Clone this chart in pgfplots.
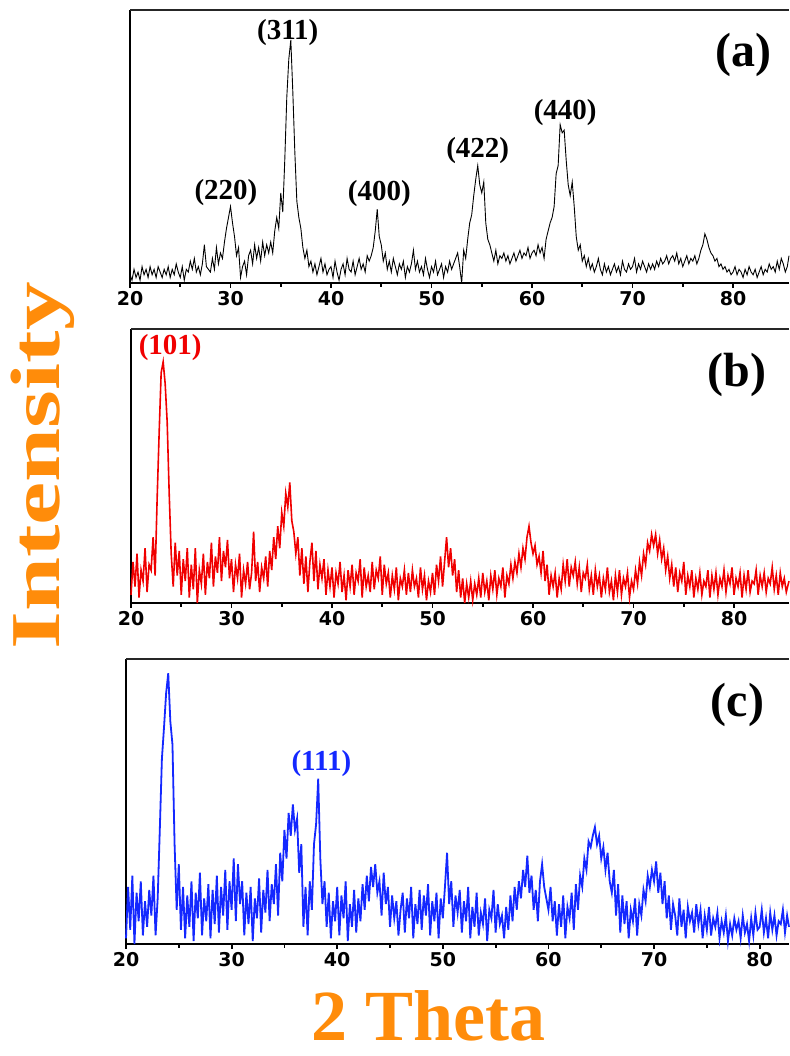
\documentclass[border=0pt]{standalone}
\usepackage{fontspec}
\setmainfont{Liberation Serif}
\newfontfamily\tickfont{DejaVu Sans}
\usepackage{pgfplots}
\pgfplotsset{compat=1.18}
\definecolor{myorange}{RGB}{255,140,10}
\definecolor{myred}{RGB}{240,0,0}
\definecolor{myblue}{RGB}{20,40,255}
\pgfplotsset{panel/.style={
  scale only axis, anchor=south west, xmin=20, ymin=0, ymax=100,
  axis x line*=bottom, axis y line*=left, ytick=\empty,
  xtick={20,30,...,80}, minor x tick num=1, tick align=outside,
  major tick length=5pt, minor tick length=4pt,
  x axis line style={line width=2pt}, y axis line style={line width=2.8pt},
  every tick/.style={black, line width=1.8pt},
  xticklabel style={font=\tickfont\bfseries\fontsize{19}{19}\selectfont},
  /pgf/number format/assume math mode=true,
  clip=false}}
\newcommand{\pk}{\bfseries\fontsize{29}{29}\selectfont}
\newcommand{\pn}{\bfseries\fontsize{48}{48}\selectfont}
\begin{document}
\begin{tikzpicture}[x=1pt,y=1pt]
\useasboundingbox (0pt,0pt) rectangle (789pt,1056pt);
% ---------------- (a)
\begin{axis}[panel, at={(130pt,773pt)}, width=659pt, height=273pt, xmax=85.57]
\addplot[black, line width=0.9pt] coordinates {
(20.0,3)(20.2,1)(20.4,5)(20.6,2)(20.8,4)(21.0,1)(21.2,6)(21.4,3)(21.6,5)(21.8,2)
(22.0,6)(22.2,3)(22.4,5)(22.6,2)(22.8,6)(23.0,4)(23.2,2)(23.4,5)(23.6,3)(23.8,6)
(24.0,2)(24.2,5)(24.4,3)(24.6,7)(24.8,4)(25.0,2)(25.2,6)(25.4,1)(25.6,5)(25.8,4)
(26.0,8)(26.2,5)(26.4,9)(26.6,4)(26.8,6)(27.0,3)(27.2,7)(27.4,14)(27.6,6)(27.8,5)
(28.0,4)(28.2,9)(28.4,5)(28.6,13)(28.8,7)(29.0,11)(29.2,9)(29.4,15)(29.6,20)(29.8,24)
(30.0,28)(30.2,22)(30.4,17)(30.6,10)(30.8,13)(31.0,2)(31.2,6)(31.4,8)(31.6,3)(31.8,10)
(32.0,12)(32.2,7)(32.4,14)(32.6,9)(32.8,13)(33.0,8)(33.2,15)(33.4,10)(33.6,14)(33.8,11)
(34.0,15)(34.2,11)(34.4,19)(34.6,24)(34.8,20)(35.0,33)(35.2,26)(35.4,45)(35.6,68)(35.8,82)
(36.0,89)(36.2,70)(36.4,48)(36.6,30)(36.8,24)(37.0,20)(37.2,13)(37.4,9)(37.6,12)(37.8,6)
(38.0,8)(38.2,4)(38.4,7)(38.6,3)(38.8,6)(39.0,9)(39.2,4)(39.4,7)(39.6,3)(39.8,5)
(40.0,6)(40.2,2)(40.4,8)(40.6,4)(40.8,1)(41.0,5)(41.2,7)(41.4,3)(41.6,9)(41.8,5)
(42.0,4)(42.2,8)(42.4,3)(42.6,6)(42.8,9)(43.0,5)(43.2,7)(43.4,4)(43.6,10)(43.8,8)
(44.0,10)(44.2,13)(44.4,19)(44.6,27)(44.8,17)(45.0,14)(45.2,8)(45.4,11)(45.6,5)(45.8,8)
(46.0,4)(46.2,9)(46.4,6)(46.6,3)(46.8,7)(47.0,5)(47.2,8)(47.4,2)(47.6,6)(47.8,4)
(48.0,7)(48.2,12)(48.4,5)(48.6,8)(48.8,4)(49.0,6)(49.2,3)(49.4,9)(49.6,5)(49.8,2)
(50.0,6)(50.2,4)(50.4,8)(50.6,3)(50.8,5)(51.0,7)(51.2,2)(51.4,6)(51.6,4)(51.8,8)
(52.0,5)(52.2,7)(52.4,9)(52.6,11)(52.8,6)(53.0,0)(53.2,12)(53.4,9)(53.6,16)(53.8,22)
(54.0,25)(54.2,32)(54.4,38)(54.6,43)(54.8,36)(55.0,33)(55.2,37)(55.4,22)(55.6,16)(55.8,14)
(56.0,11)(56.2,8)(56.4,12)(56.6,7)(56.8,10)(57.0,9)(57.2,11)(57.4,8)(57.6,10)(57.8,7)
(58.0,9)(58.2,11)(58.4,8)(58.6,10)(58.8,12)(59.0,9)(59.2,11)(59.4,10)(59.6,13)(59.8,9)
(60.0,11)(60.2,12)(60.4,10)(60.6,14)(60.8,11)(61.0,13)(61.2,9)(61.4,16)(61.6,19)(61.8,22)
(62.0,24)(62.2,28)(62.4,40)(62.6,43)(62.8,58)(63.0,55)(63.2,56)(63.4,45)(63.6,36)(63.8,32)
(64.0,37)(64.2,28)(64.4,17)(64.6,12)(64.8,14)(65.0,8)(65.2,10)(65.4,6)(65.6,9)(65.8,5)
(66.0,7)(66.2,4)(66.4,6)(66.6,9)(66.8,5)(67.0,3)(67.2,7)(67.4,4)(67.6,6)(67.8,3)
(68.0,5)(68.2,7)(68.4,4)(68.6,6)(68.8,3)(69.0,8)(69.2,5)(69.4,4)(69.6,7)(69.8,5)
(70.0,6)(70.2,9)(70.4,4)(70.6,7)(70.8,5)(71.0,8)(71.2,6)(71.4,4)(71.6,7)(71.8,5)
(72.0,7)(72.2,5)(72.4,8)(72.6,6)(72.8,9)(73.0,7)(73.2,8)(73.4,10)(73.6,7)(73.8,9)
(74.0,10)(74.2,8)(74.4,11)(74.6,7)(74.8,9)(75.0,6)(75.2,8)(75.4,10)(75.6,7)(75.8,9)
(76.0,8)(76.2,10)(76.4,7)(76.6,9)(76.8,12)(77.0,14)(77.2,18)(77.4,16)(77.6,13)(77.8,11)
(78.0,10)(78.2,8)(78.4,9)(78.6,6)(78.8,7)(79.0,5)(79.2,6)(79.4,4)(79.6,5)(79.8,3)
(80.0,4)(80.2,6)(80.4,3)(80.6,5)(80.8,4)(81.0,2)(81.2,5)(81.4,3)(81.6,6)(81.8,4)
(82.0,3)(82.2,5)(82.4,2)(82.6,4)(82.8,6)(83.0,3)(83.2,5)(83.4,4)(83.6,7)(83.8,5)
(84.0,6)(84.2,4)(84.4,8)(84.6,5)(84.8,9)(85.0,7)(85.2,4)(85.4,6)(85.57,10)
};
\draw[line width=1.5pt, black!85] (rel axis cs:0,1) -- (rel axis cs:1,1);
\node[font=\pk] at (axis cs:29.55,33.3) {(220)};
\node[font=\pk] at (axis cs:35.7,91.6) {(311)};
\node[font=\pk] at (axis cs:44.8,32.6) {(400)};
\node[font=\pk] at (axis cs:54.6,48.4) {(422)};
\node[font=\pk] at (axis cs:63.3,62.6) {(440)};
\node[font=\pn] at (axis cs:81.0,83.5) {(a)};
\end{axis}
% ---------------- (b)
\begin{axis}[panel, at={(131pt,453pt)}, width=658pt, height=274pt, xmax=85.47]
\addplot[myred, line width=1.6pt] coordinates {
(20.0,3)(20.2,15)(20.4,6)(20.6,18)(20.8,2)(21.0,12)(21.2,8)(21.4,20)(21.6,4)(21.8,14)
(22.0,12)(22.2,24)(22.4,10)(22.6,38)(22.8,62)(23.0,84)(23.2,88)(23.4,80)(23.6,66)(23.8,40)
(24.0,18)(24.2,6)(24.4,22)(24.6,10)(24.8,19)(25.0,3)(25.2,16)(25.4,8)(25.6,20)(25.8,2)
(26.0,14)(26.2,5)(26.4,20)(26.6,0)(26.8,12)(27.0,7)(27.2,18)(27.4,3)(27.6,15)(27.8,9)
(28.0,22)(28.2,6)(28.4,17)(28.6,11)(28.8,24)(29.0,8)(29.2,19)(29.4,13)(29.6,23)(29.8,9)
(30.0,16)(30.2,4)(30.4,14)(30.6,9)(30.8,18)(31.0,2)(31.2,12)(31.4,7)(31.6,15)(31.8,5)
(32.0,11)(32.2,26)(32.4,8)(32.6,15)(32.8,4)(33.0,13)(33.2,9)(33.4,17)(33.6,6)(33.8,19)
(34.0,12)(34.2,24)(34.4,16)(34.6,28)(34.8,20)(35.0,33)(35.2,28)(35.4,40)(35.6,35)(35.8,44)
(36.0,30)(36.2,26)(36.4,18)(36.6,24)(36.8,10)(37.0,20)(37.2,7)(37.4,17)(37.6,4)(37.8,15)
(38.0,22)(38.2,8)(38.4,19)(38.6,5)(38.8,14)(39.0,9)(39.2,16)(39.4,3)(39.6,12)(39.8,6)
(40.0,13)(40.2,2)(40.4,11)(40.6,7)(40.8,15)(41.0,4)(41.2,10)(41.4,1)(41.6,12)(41.8,6)
(42.0,14)(42.2,3)(42.4,11)(42.6,8)(42.8,16)(43.0,2)(43.2,13)(43.4,6)(43.6,10)(43.8,4)
(44.0,15)(44.2,5)(44.4,12)(44.6,9)(44.8,17)(45.0,3)(45.2,14)(45.4,7)(45.6,11)(45.8,2)
(46.0,10)(46.2,5)(46.4,13)(46.6,1)(46.8,9)(47.0,6)(47.2,12)(47.4,3)(47.6,11)(47.8,4)
(48.0,12)(48.2,6)(48.4,9)(48.6,2)(48.8,13)(49.0,5)(49.2,10)(49.4,1)(49.6,8)(49.8,4)
(50.0,11)(50.2,3)(50.4,14)(50.6,8)(50.8,17)(51.0,6)(51.2,15)(51.4,24)(51.6,13)(51.8,20)
(52.0,10)(52.2,16)(52.4,4)(52.6,12)(52.8,2)(53.0,9)(53.2,0)(53.4,7)(53.6,2)(53.8,8)
(54.0,1)(54.2,7)(54.4,3)(54.6,9)(54.8,2)(55.0,11)(55.2,4)(55.4,8)(55.6,1)(55.8,10)
(56.0,5)(56.2,12)(56.4,3)(56.6,9)(56.8,6)(57.0,13)(57.2,2)(57.4,10)(57.6,7)(57.8,14)
(58.0,9)(58.2,15)(58.4,11)(58.6,18)(58.8,13)(59.0,20)(59.2,16)(59.4,24)(59.6,28)(59.8,22)
(60.0,18)(60.2,21)(60.4,14)(60.6,17)(60.8,11)(61.0,19)(61.2,8)(61.4,14)(61.6,3)(61.8,10)
(62.0,6)(62.2,11)(62.4,2)(62.6,9)(62.8,5)(63.0,14)(63.2,8)(63.4,16)(63.6,6)(63.8,13)
(64.0,10)(64.2,15)(64.4,7)(64.6,13)(64.8,4)(65.0,11)(65.2,9)(65.4,14)(65.6,5)(65.8,10)
(66.0,3)(66.2,12)(66.4,6)(66.6,10)(66.8,2)(67.0,9)(67.2,5)(67.4,13)(67.6,4)(67.8,8)
(68.0,1)(68.2,10)(68.4,4)(68.6,12)(68.8,3)(69.0,9)(69.2,6)(69.4,11)(69.6,2)(69.8,8)
(70.0,5)(70.2,12)(70.4,7)(70.6,15)(70.8,10)(71.0,18)(71.2,14)(71.4,22)(71.6,19)(71.8,25)
(72.0,21)(72.2,25)(72.4,18)(72.6,23)(72.8,16)(73.0,20)(73.2,12)(73.4,17)(73.6,9)(73.8,14)
(74.0,6)(74.2,13)(74.4,4)(74.6,11)(74.8,8)(75.0,15)(75.2,3)(75.4,10)(75.6,6)(75.8,12)
(76.0,2)(76.2,9)(76.4,5)(76.6,11)(76.8,3)(77.0,8)(77.2,6)(77.4,12)(77.6,2)(77.8,10)
(78.0,5)(78.2,11)(78.4,3)(78.6,9)(78.8,6)(79.0,12)(79.2,4)(79.4,10)(79.6,7)(79.8,13)
(80.0,3)(80.2,9)(80.4,6)(80.6,11)(80.8,2)(81.0,10)(81.2,5)(81.4,12)(81.6,4)(81.8,8)
(82.0,7)(82.2,12)(82.4,3)(82.6,10)(82.8,6)(83.0,11)(83.2,4)(83.4,9)(83.6,7)(83.8,13)
(84.0,5)(84.2,10)(84.4,3)(84.6,11)(84.8,6)(85.0,9)(85.2,4)(85.47,8)
};
\draw[line width=1.5pt, black!85] (rel axis cs:0,1) -- (rel axis cs:1,1);
\node[font=\pk, text=myred] at (axis cs:23.9,93.1) {(101)};
\node[font=\pn] at (axis cs:80.3,83.2) {(b)};
\end{axis}
% ---------------- (c)
\begin{axis}[panel, at={(126pt,112pt)}, width=663pt, height=285pt, xmax=82.78]
\addplot[myblue, line width=1.8pt] coordinates {
(20.0,2)(20.2,20)(20.4,5)(20.6,24)(20.8,0)(21.0,18)(21.2,8)(21.4,22)(21.6,3)(21.8,15)
(22.0,6)(22.2,19)(22.4,10)(22.6,24)(22.8,3)(23.0,16)(23.2,40)(23.4,65)(23.6,76)(23.8,88)
(24.0,95)(24.2,78)(24.4,70)(24.6,35)(24.8,12)(25.0,28)(25.2,5)(25.4,20)(25.6,2)(25.8,17)
(26.0,6)(26.2,22)(26.4,1)(26.6,18)(26.8,9)(27.0,25)(27.2,3)(27.4,16)(27.6,8)(27.8,21)
(28.0,2)(28.2,19)(28.4,7)(28.6,24)(28.8,4)(29.0,20)(29.2,10)(29.4,26)(29.6,5)(29.8,22)
(30.0,12)(30.2,30)(30.4,8)(30.6,28)(30.8,14)(31.0,22)(31.2,3)(31.4,18)(31.6,7)(31.8,20)
(32.0,1)(32.2,16)(32.4,9)(32.6,23)(32.8,4)(33.0,19)(33.2,11)(33.4,26)(33.6,8)(33.8,21)
(34.0,14)(34.2,28)(34.4,10)(34.6,32)(34.8,22)(35.0,40)(35.2,30)(35.4,46)(35.6,38)(35.8,49)
(36.0,40)(36.2,44)(36.4,25)(36.6,35)(36.8,6)(37.0,20)(37.2,3)(37.4,22)(37.6,12)(37.8,35)
(38.0,42)(38.2,58)(38.4,30)(38.6,14)(38.8,22)(39.0,6)(39.2,18)(39.4,2)(39.6,15)(39.8,8)
(40.0,20)(40.2,3)(40.4,17)(40.6,9)(40.8,22)(41.0,1)(41.2,14)(41.4,6)(41.6,19)(41.8,4)
(42.0,16)(42.2,8)(42.4,21)(42.6,12)(42.8,24)(43.0,15)(43.2,27)(43.4,20)(43.6,28)(43.8,18)
(44.0,22)(44.2,10)(44.4,25)(44.6,14)(44.8,20)(45.0,6)(45.2,17)(45.4,9)(45.6,15)(45.8,3)
(46.0,12)(46.2,18)(46.4,4)(46.6,16)(46.8,9)(47.0,20)(47.2,2)(47.4,14)(47.6,7)(47.8,19)
(48.0,5)(48.2,17)(48.4,10)(48.6,21)(48.8,3)(49.0,15)(49.2,8)(49.4,18)(49.6,2)(49.8,16)
(50.0,9)(50.2,20)(50.4,32)(50.6,14)(50.8,22)(51.0,6)(51.2,17)(51.4,11)(51.6,19)(51.8,4)
(52.0,15)(52.2,8)(52.4,20)(52.6,2)(52.8,13)(53.0,6)(53.2,18)(53.4,3)(53.6,11)(53.8,7)
(54.0,16)(54.2,1)(54.4,12)(54.6,9)(54.8,19)(55.0,4)(55.2,14)(55.4,7)(55.6,10)(55.8,2)
(56.0,13)(56.2,5)(56.4,17)(56.6,8)(56.8,20)(57.0,12)(57.2,22)(57.4,16)(57.6,26)(57.8,20)
(58.0,31)(58.2,18)(58.4,24)(58.6,12)(58.8,19)(59.0,8)(59.2,22)(59.4,28)(59.6,20)(59.8,16)
(60.0,12)(60.2,20)(60.4,8)(60.6,15)(60.8,3)(61.0,14)(61.2,6)(61.4,17)(61.6,2)(61.8,13)
(62.0,9)(62.2,18)(62.4,5)(62.6,21)(62.8,12)(63.0,24)(63.2,20)(63.4,30)(63.6,26)(63.8,36)
(64.0,34)(64.2,38)(64.4,41)(64.6,35)(64.8,38)(65.0,30)(65.2,34)(65.4,26)(65.6,32)(65.8,22)
(66.0,18)(66.2,26)(66.4,10)(66.6,21)(66.8,4)(67.0,17)(67.2,7)(67.4,15)(67.6,2)(67.8,12)
(68.0,8)(68.2,16)(68.4,3)(68.6,14)(68.8,10)(69.0,19)(69.2,15)(69.4,24)(69.6,20)(69.8,26)
(70.0,22)(70.2,29)(70.4,18)(70.6,25)(70.8,14)(71.0,22)(71.2,9)(71.4,17)(71.6,5)(71.8,14)
(72.0,10)(72.2,3)(72.4,16)(72.6,6)(72.8,12)(73.0,2)(73.2,13)(73.4,8)(73.6,11)(73.8,4)
(74.0,14)(74.2,7)(74.4,12)(74.6,2)(74.8,10)(75.0,5)(75.2,13)(75.4,3)(75.6,9)(75.8,6)
(76.0,11)(76.2,2)(76.4,8)(76.6,4)(76.8,10)(77.0,1)(77.2,7)(77.4,3)(77.6,9)(77.8,5)
(78.0,8)(78.2,2)(78.4,10)(78.6,4)(78.8,7)(79.0,1)(79.2,9)(79.4,3)(79.6,11)(79.8,5)
(80.0,6)(80.2,12)(80.4,4)(80.6,9)(80.8,2)(81.0,11)(81.2,5)(81.4,10)(81.6,3)(81.8,8)
(82.0,7)(82.2,12)(82.4,4)(82.6,10)(82.78,6)
};
\draw[line width=1.5pt, black!85] (rel axis cs:0,1) -- (rel axis cs:1,1);
\node[font=\pk, text=myblue] at (axis cs:38.5,63.2) {(111)};
\node[font=\pn] at (axis cs:77.9,83.9) {(c)};
\end{axis}
% ---------------- axis titles
\node[rotate=90, anchor=base, text=myorange, font=\bfseries\fontsize{70}{70}\selectfont] at (59pt,590pt) {\scalebox{1.39}[1]{Intensity}};
\node[anchor=base, inner sep=0pt, text=myorange, font=\bfseries\fontsize{72}{72}\selectfont] at (428pt,15pt) {2 Theta};
\end{tikzpicture}
\end{document}
